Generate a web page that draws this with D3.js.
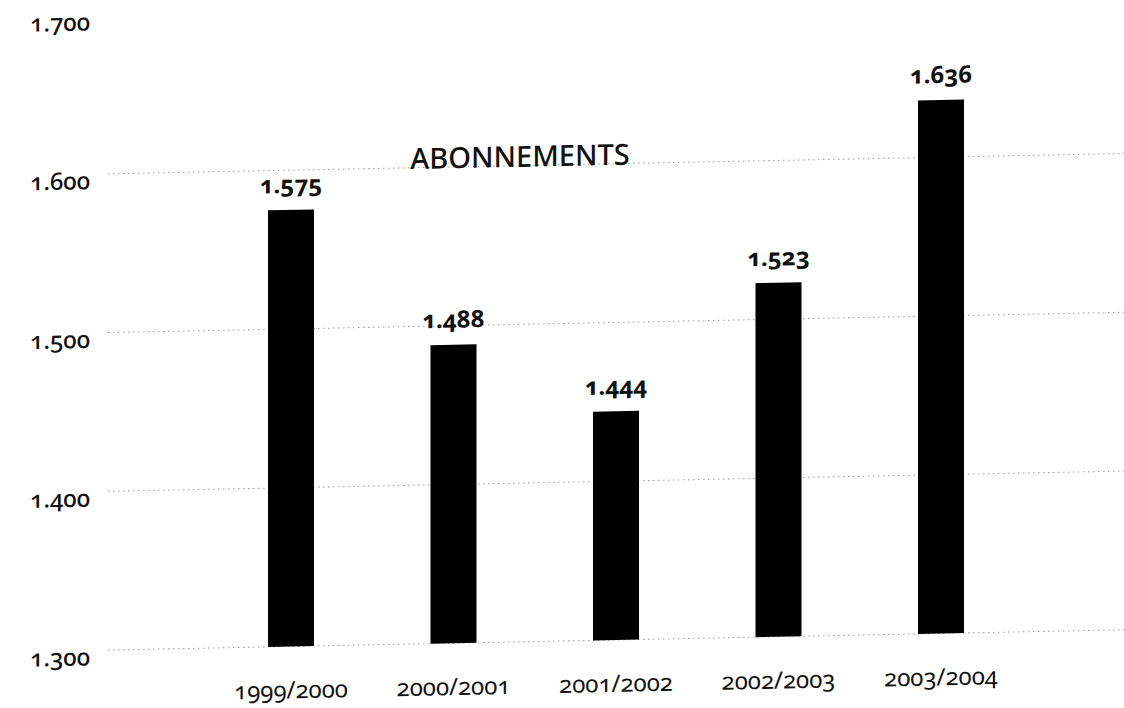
<!DOCTYPE html>
<html>
<head>
<meta charset="utf-8">
<script src="https://cdn.jsdelivr.net/npm/d3@7"></script>
<style>
  body { margin: 0; background: #fff; }
  svg text { font-family: "Noto Sans", "Open Sans", sans-serif; fill: #111;
             font-variant-numeric: oldstyle-nums; }
</style>
</head>
<body>
<script>
// abonnementen per seizoen
var seasons = ['1999/2000', '2000/2001', '2001/2002', '2002/2003', '2003/2004'];
var subscriptions = [1.575, 1.488, 1.444, 1.523, 1.636];
var yTicks = [1.3, 1.4, 1.5, 1.6, 1.7];
var gridTicks = [1.3, 1.4, 1.5, 1.6];
var title = 'ABONNEMENTS';

var width = 1124;
var height = 708;
var barWidth = 46;

var fmt = function(v) { return d3.format('.3f')(v); };

var svg = d3.select('body').append('svg')
  .attr('width', width)
  .attr('height', height);

// the scanned original leans a little (right side higher)
var g = svg.append('g')
  .attr('transform', 'matrix(1,-0.02,0,1,0,11.24)');

var x = d3.scalePoint()
  .domain(seasons)
  .range([291, 941]);

var y = d3.scaleLinear()
  .domain([1.3, 1.7])
  .range([641, 6]);

// dotted grid lines
g.selectAll('.grid')
  .data(gridTicks)
  .enter().append('line')
  .attr('class', 'grid')
  .attr('x1', 108)
  .attr('x2', width + 20)
  .attr('y1', function(d) { return y(d); })
  .attr('y2', function(d) { return y(d); })
  .attr('stroke', '#999')
  .attr('stroke-width', 1)
  .attr('stroke-dasharray', '1.5,3.5');

// y tick labels
g.selectAll('.ytick')
  .data(yTicks)
  .enter().append('text')
  .attr('class', 'ytick')
  .attr('x', 30)
  .attr('y', function(d) { return y(d) + 15; })
  .attr('font-size', 24)
  .attr('font-weight', 500)
  .text(fmt);

g.append('text')
  .attr('x', 520)
  .attr('y', 166)
  .attr('text-anchor', 'middle')
  .attr('font-size', 29)
  .attr('font-weight', 500)
  .text(title);

var data = seasons.map(function(s, i) {
  return { season: s, value: subscriptions[i] };
});

g.selectAll('.bar')
  .data(data)
  .enter().append('rect')
  .attr('class', 'bar')
  .attr('x', function(d) { return x(d.season) - barWidth / 2; })
  .attr('width', barWidth)
  .attr('y', function(d) { return y(d.value); })
  .attr('height', function(d) { return y(1.3) - y(d.value); })
  .attr('fill', '#000');

g.selectAll('.val')
  .data(data)
  .enter().append('text')
  .attr('class', 'val')
  .attr('x', function(d) { return x(d.season); })
  .attr('y', function(d) { return y(d.value) - 17; })
  .attr('text-anchor', 'middle')
  .attr('font-size', 24)
  .attr('font-weight', 700)
  .text(function(d) { return fmt(d.value); });

g.selectAll('.xlab')
  .data(seasons)
  .enter().append('text')
  .attr('class', 'xlab')
  .attr('x', function(d) { return x(d); })
  .attr('y', 693)
  .attr('text-anchor', 'middle')
  .attr('font-size', 24)
  .text(function(d) { return d; });
</script>
</body>
</html>
